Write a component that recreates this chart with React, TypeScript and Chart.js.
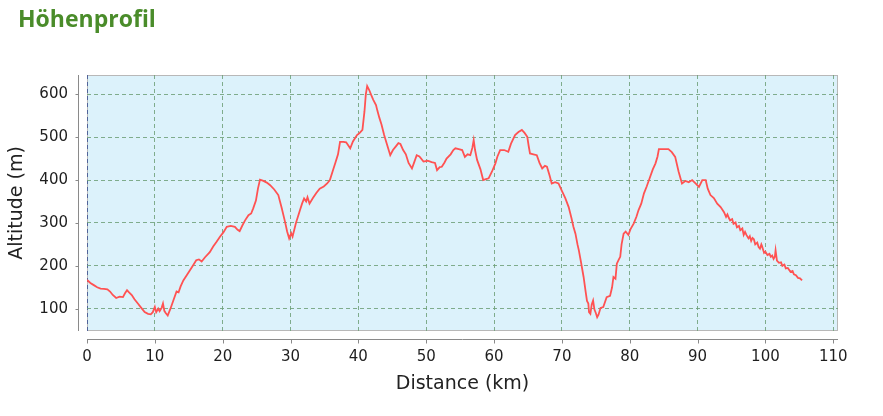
import React, { useEffect, useRef } from "react";
import { Chart, registerables } from "chart.js";

Chart.register(...registerables);

const TITLE = "Höhenprofil";
const X_LABEL = "Distance (km)";
const Y_LABEL = "Altitude (m)";

const X_TICKS = [0, 10, 20, 30, 40, 50, 60, 70, 80, 90, 100, 110];
const Y_TICKS = [100, 200, 300, 400, 500, 600];
const X_MIN = 0;
const X_MAX = 110.7;
const Y_MIN = 48;
const Y_MAX = 645;

const DIST = [
  0, 0.5, 1.0, 1.5, 2.0, 2.5, 3.0, 3.4, 3.8, 4.3, 4.8, 5.3, 5.6, 5.9, 6.2, 6.6, 7.0, 7.5, 8.0, 8.5,
  9.0, 9.4, 9.7, 10.0, 10.2, 10.5, 10.7, 11.0, 11.2, 11.4, 11.6, 11.9, 12.3, 12.7, 13.2, 13.5, 13.8, 14.2, 14.7, 15.2,
  15.6, 16.1, 16.5, 16.9, 17.4, 18.1, 18.6, 19.1, 19.6, 20.1, 20.6, 21.2, 21.8, 22.2, 22.5, 22.9, 23.3, 23.8, 24.2, 24.5,
  24.9, 25.2, 25.5, 26.0, 26.5, 27.0, 27.6, 28.2, 28.7, 29.2, 29.5, 29.8, 30.1, 30.3, 30.8, 31.4, 31.7, 32.0, 32.3, 32.5,
  32.8, 33.3, 33.8, 34.3, 34.9, 35.4, 35.8, 36.2, 36.6, 37.0, 37.3, 37.8, 38.2, 38.8, 39.2, 39.8, 40.2, 40.6, 40.9, 41.1,
  41.3, 41.6, 41.9, 42.2, 42.6, 42.8, 43.1, 43.4, 43.8, 44.2, 44.7, 45.1, 45.5, 45.9, 46.2, 46.6, 47.0, 47.4, 47.9, 48.2,
  48.6, 49.0, 49.6, 50.2, 50.8, 51.3, 51.6, 52.0, 52.3, 52.7, 53.0, 53.6, 54.0, 54.3, 54.8, 55.3, 55.7, 56.1, 56.5, 56.8,
  57.0, 57.2, 57.5, 58.0, 58.4, 58.8, 59.2, 59.7, 60.2, 60.5, 60.9, 61.5, 62.1, 62.5, 63.1, 63.6, 64.1, 64.5, 64.9, 65.1,
  65.3, 65.8, 66.3, 66.7, 67.1, 67.5, 67.8, 68.2, 68.5, 69.0, 69.5, 70.0, 70.5, 71.0, 71.4, 71.7, 72.0, 72.3, 72.5, 72.8,
  73.2, 73.5, 73.7, 73.9, 74.0, 74.2, 74.4, 74.6, 74.8, 75.0, 75.2, 75.4, 75.7, 76.1, 76.6, 77.1, 77.4, 77.6, 77.9, 78.1,
  78.4, 78.6, 78.8, 79.1, 79.4, 79.8, 80.1, 80.6, 81.0, 81.3, 81.7, 82.1, 82.5, 83.0, 83.4, 83.8, 84.1, 84.3, 85.0, 85.7,
  86.2, 86.7, 87.2, 87.7, 88.2, 88.7, 89.2, 89.7, 90.2, 90.7, 91.2, 91.5, 91.9, 92.4, 92.9, 93.4, 93.9,
  94.2, 94.4, 94.6, 94.8, 95.1, 95.3, 95.6, 95.8, 96.1, 96.3, 96.6, 96.8, 97.0, 97.2, 97.5, 97.7, 97.9, 98.1, 98.3, 98.5,
  98.8, 99.0, 99.2, 99.4, 99.5, 99.8, 100.0, 100.3, 100.6, 100.8, 101.0, 101.2, 101.4, 101.5, 101.7, 102.0, 102.3, 102.5, 102.8, 103.0,
  103.3, 103.7, 104.0, 104.2, 104.5, 104.8, 105.1, 105.4,
];

const ALT = [
  167, 160, 155, 150, 147, 146, 145, 140, 132, 125, 128, 127, 136, 143, 138, 132, 122, 112, 102, 92,
  88, 87, 92, 104, 92, 100, 94, 102, 112, 95, 90, 84, 100, 118, 140, 138, 152, 166, 178, 190,
  200, 213, 215, 210, 220, 232, 245, 256, 268, 278, 291, 293, 291, 284, 281, 294, 306, 318, 322, 334,
  352, 380, 401, 398, 394, 388, 378, 365, 335, 302, 280, 264, 276, 268, 300, 330, 345, 357, 350, 360,
  345, 358, 370, 380, 385, 392, 400, 420, 440, 460, 489, 489, 488, 474, 490, 505, 510, 517, 560, 600,
  619, 610, 598, 587, 575, 562, 545, 530, 505, 484, 458, 470, 478, 486, 484, 470, 460, 440, 427, 440,
  458, 455, 443, 445, 442, 440, 423, 430, 431, 441, 450, 460, 470, 474, 472, 470, 454, 460, 458, 475,
  493, 470, 447, 425, 400, 402, 404, 420, 439, 455, 470, 470, 466, 485, 505, 512, 517, 510, 501, 480,
  462, 460, 458, 440, 427, 433, 431, 410, 392, 395, 392, 375, 358, 337, 312, 291, 275, 250, 236, 210,
  174, 140, 118, 112, 92, 88, 110, 119, 98, 90, 80, 86, 102, 104, 127, 130, 150, 174, 170, 205,
  215, 221, 250, 275, 280, 272, 285, 299, 315, 330, 345, 369, 385, 407, 425, 439, 455, 472, 472, 472,
  465, 454, 420, 392, 398, 395, 400, 392, 384, 400, 400, 380, 365, 358, 345, 337, 325,
  314, 320, 312, 306, 309, 298, 301, 290, 293, 283, 287, 272, 279, 272, 264, 269, 258, 265, 262, 250,
  254, 244, 240, 250, 246, 230, 233, 225, 228, 221, 224, 216, 222, 236, 212, 207, 208, 200, 203, 194,
  195, 186, 188, 180, 178, 172, 171, 166,
];

const plotFrame = {
  id: "plotFrame",
  beforeDraw(chart: any) {
    const { ctx, chartArea: a } = chart;
    ctx.save();
    ctx.fillStyle = "#dcf2fb";
    ctx.fillRect(a.left, a.top, a.right - a.left, a.bottom - a.top);
    ctx.strokeStyle = "#b8b8b8";
    ctx.lineWidth = 1;
    ctx.strokeRect(a.left + 0.5, a.top + 0.5, a.right - a.left - 1, a.bottom - a.top - 1);
    ctx.restore();
  },
  afterDraw(chart: any) {
    const { ctx, chartArea: a, scales } = chart;
    ctx.save();
    ctx.strokeStyle = "#8a8a8a";
    ctx.lineWidth = 1;
    ctx.beginPath();
    const ax = Math.round(a.left) - 8.5;
    ctx.moveTo(ax, a.top);
    ctx.lineTo(ax, a.bottom);
    scales.y.ticks.forEach((t: any) => {
      const py = Math.round(scales.y.getPixelForValue(t.value)) + 0.5;
      ctx.moveTo(ax - 3, py);
      ctx.lineTo(ax, py);
    });
    const ay = Math.round(a.bottom) + 8.5;
    ctx.moveTo(a.left, ay);
    ctx.lineTo(a.right, ay);
    scales.x.ticks.forEach((t: any) => {
      const px = Math.round(scales.x.getPixelForValue(t.value)) + 0.5;
      ctx.moveTo(px, ay);
      ctx.lineTo(px, ay + 4);
    });
    ctx.stroke();
    ctx.restore();
  },
};

export default function App() {
  const canvasRef = useRef<HTMLCanvasElement | null>(null);

  useEffect(() => {
    const canvas = canvasRef.current;
    if (!canvas) return;
    const points = DIST.map((x, i) => ({ x, y: ALT[i] }));
    const chart = new Chart(canvas, {
      type: "line",
      data: {
        datasets: [
          {
            data: points,
            borderColor: "rgb(255, 82, 82)",
            borderWidth: 1.8,
            pointRadius: 0,
            tension: 0,
            fill: false,
          },
        ],
      },
      options: {
        animation: false,
        responsive: false,
        devicePixelRatio: 1,
        parsing: false as any,
        layout: { padding: { left: 0, right: 45, top: 75, bottom: 0 } },
        plugins: {
          legend: { display: false },
          tooltip: { enabled: false },
          title: { display: false },
        },
        scales: {
          x: {
            type: "linear",
            min: X_MIN,
            max: X_MAX,
            afterBuildTicks: (scale: any) => {
              scale.ticks = X_TICKS.map((v) => ({ value: v }));
            },
            afterFit: (scale: any) => {
              scale.height = 85;
            },
            grid: {
              drawTicks: false,
              color: (c: any) => (c.tick && c.tick.value === 0 ? "rgba(70,90,150,0.9)" : "rgba(110,160,120,0.85)"),
              lineWidth: 1,
            },
            border: { display: false, dash: [4, 3] },
            ticks: {
              padding: 17,
              color: "#1e1e1e",
              font: { family: "'DejaVu Sans'", size: 15 },
              maxRotation: 0,
              autoSkip: false,
            },
            title: {
              display: true,
              text: X_LABEL,
              color: "#222",
              font: { family: "'DejaVu Sans'", size: 19 },
              padding: { top: 0, bottom: 21 },
            },
          },
          y: {
            type: "linear",
            min: Y_MIN,
            max: Y_MAX,
            afterBuildTicks: (scale: any) => {
              scale.ticks = Y_TICKS.map((v) => ({ value: v }));
            },
            afterFit: (scale: any) => {
              scale.width = 87;
            },
            grid: {
              drawTicks: false,
              color: "rgba(110,160,120,0.85)",
              lineWidth: 1,
            },
            border: { display: false, dash: [4, 3] },
            ticks: {
              padding: 19,
              color: "#1e1e1e",
              font: { family: "'DejaVu Sans'", size: 15 },
              autoSkip: false,
            },
            title: {
              display: true,
              text: Y_LABEL,
              color: "#222",
              font: { family: "'DejaVu Sans'", size: 19 },
              padding: { top: 6, bottom: 0 },
            },
          },
        },
      },
      plugins: [plotFrame],
    });
    return () => chart.destroy();
  }, []);

  return (
    <div style={{ position: "absolute", left: 0, top: 0, width: 883, height: 416, background: "#fff" }}>
      <canvas
        ref={canvasRef}
        width={883}
        height={416}
        style={{ position: "absolute", left: 0, top: 0, width: 883, height: 416 }}
      />
      <div
        style={{
          position: "absolute",
          left: 18,
          top: 7,
          fontFamily: "'Open Sans', sans-serif",
          fontWeight: 700,
          fontSize: 23,
          lineHeight: "23px",
          color: "rgb(74, 140, 42)",
          whiteSpace: "nowrap",
        }}
      >
        {TITLE}
      </div>
    </div>
  );
}
